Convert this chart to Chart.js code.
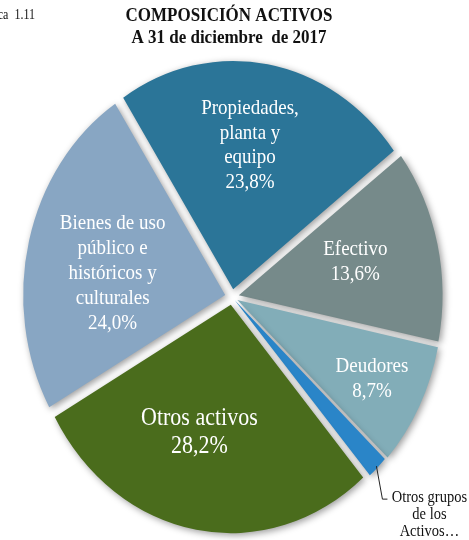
<!DOCTYPE html>
<html>
<head>
<meta charset="utf-8">
<script src="https://cdn.jsdelivr.net/npm/chart.js@4.4.1/dist/chart.umd.min.js"></script>
<style>
  html, body { margin: 0; padding: 0; background: #fff; }
  canvas { display: block; }
</style>
</head>
<body>
<canvas id="myChart" width="469" height="540"></canvas>
<script>
// slice data, clockwise from the top-left boundary
const categories = ['Propiedades, planta y equipo', 'Efectivo', 'Deudores',
  'Otros grupos de los Activos…', 'Otros activos',
  'Bienes de uso público e históricos y culturales'];
const values = [23.8, 13.6, 8.7, 1.7, 28.2, 24.0];
const labelLines = [
  ['Propiedades,', 'planta y', 'equipo'],
  ['Efectivo'],
  ['Deudores'],
  ['Otros grupos', 'de los', 'Activos…'],
  ['Otros activos'],
  ['Bienes de uso', 'público e', 'históricos y', 'culturales']
];
const colors = ['#2b7598', '#768a8a', '#82adb8', '#2a85c8', '#4a6c1c', '#88a6c3'];
const titleLines = ['COMPOSICIÓN ACTIVOS', 'A 31 de diciembre  de 2017'];

// explode amount per slice (chart.js moves a slice by offset/4)
const explode = [28, 28, 24, 16, 28, 28];
// label placement (fraction of radius, angle shift in degrees, font size, line gap)
const labelRadius = [0.67, 0.63, 0.78, 0, 0.615, 0.60];
const labelShift = [-2.2, -1.3, 0, 0, 5.4, -3.8];
const labelSize = [19, 19, 19, 14.5, 22, 19];
const labelGap = [22, 23, 22, 17, 25, 22];

const FONT = '"Liberation Serif", "Times New Roman", serif';
const STRETCH = 1.13; // the original pie is a bit taller than wide

function pct(v) {
  return v.toFixed(1).replace('.', ',') + '%';
}

function stretchedText(ctx, text, x, y) {
  ctx.save();
  ctx.translate(x, y);
  ctx.scale(1, STRETCH);
  ctx.fillText(text, 0, 0);
  ctx.restore();
}

const pieShape = {
  id: 'pieShape',
  beforeDatasetsDraw(chart) {
    const arc = chart.getDatasetMeta(0).data[0];
    const ctx = chart.ctx;
    ctx.save();
    ctx.translate(arc.x, arc.y);
    ctx.scale(1, STRETCH);
    ctx.translate(-arc.x, -arc.y);
    ctx.shadowColor = 'rgba(0,0,0,0.4)';
    ctx.shadowBlur = 7;
    ctx.shadowOffsetX = 2;
    ctx.shadowOffsetY = 2;
  },
  afterDatasetsDraw(chart) {
    const ctx = chart.ctx;
    ctx.restore();
    const arcs = chart.getDatasetMeta(0).data;

    // labels inside the slices
    arcs.forEach((arc, i) => {
      if (!labelRadius[i]) return;
      const mid = (arc.startAngle + arc.endAngle) / 2 + labelShift[i] * Math.PI / 180;
      const r = arc.outerRadius * labelRadius[i];
      const lx = arc.x + Math.cos(mid) * r;
      const ly = arc.y + Math.sin(mid) * r * STRETCH;
      const lines = labelLines[i].concat([pct(values[i])]);
      ctx.save();
      ctx.fillStyle = '#ffffff';
      ctx.font = labelSize[i] + 'px ' + FONT;
      ctx.textAlign = 'center';
      ctx.textBaseline = 'middle';
      lines.forEach((t, k) => {
        const dy = (k - (lines.length - 1) / 2) * labelGap[i] * STRETCH;
        stretchedText(ctx, t, lx, ly + dy);
      });
      ctx.restore();
    });

    // small slice: leader line and outside label
    const small = arcs[3];
    const mid = (small.startAngle + small.endAngle) / 2;
    const rr = small.outerRadius + 6;
    const sx = small.x + Math.cos(mid) * rr;
    const sy = small.y + Math.sin(mid) * rr * STRETCH;
    ctx.save();
    ctx.strokeStyle = '#222';
    ctx.lineWidth = 1;
    ctx.beginPath();
    ctx.moveTo(sx, sy);
    ctx.lineTo(sx + 6, sy + 33);
    ctx.lineTo(sx + 11, sy + 33);
    ctx.stroke();
    ctx.fillStyle = '#111';
    ctx.font = labelSize[3] + 'px ' + FONT;
    ctx.textAlign = 'center';
    ctx.textBaseline = 'middle';
    labelLines[3].forEach((t, k) => {
      stretchedText(ctx, t, sx + 53, sy + 32 + k * labelGap[3]);
    });
    ctx.restore();
  },
  afterDraw(chart) {
    const ctx = chart.ctx;
    ctx.save();
    ctx.fillStyle = '#111';
    ctx.textBaseline = 'middle';
    ctx.textAlign = 'center';
    ctx.font = 'bold 17px ' + FONT;
    stretchedText(ctx, titleLines[0], 229, 16);
    stretchedText(ctx, titleLines[1], 229, 38);
    ctx.textAlign = 'right';
    ctx.font = '12px ' + FONT;
    stretchedText(ctx, 'Gráfica  1.11', 35, 15);
    ctx.restore();
  }
};

const chart = new Chart(document.getElementById('myChart').getContext('2d'), {
  type: 'pie',
  data: {
    labels: categories,
    datasets: [{
      data: values,
      backgroundColor: colors,
      borderWidth: 0,
      offset: explode,
      clip: false
    }]
  },
  options: {
    responsive: false,
    animation: false,
    events: [],
    rotation: -33,
    radius: 202,
    layout: { padding: { left: 0, right: 5, top: 54, bottom: 0 } },
    plugins: {
      legend: { display: false },
      tooltip: { enabled: false },
      title: { display: false }
    }
  },
  plugins: [pieShape]
});
</script>
</body>
</html>
